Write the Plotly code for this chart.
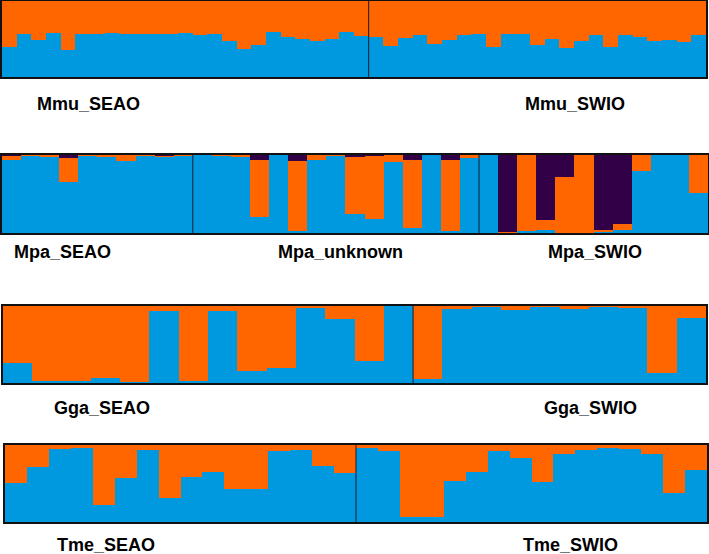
import plotly.graph_objects as go

W, H = 709, 554
BLUE = "#0099E0"
ORANGE = "#FF6600"
PURPLE = "#320047"

# ---------------- data ----------------
mmu_groups = ["Mmu_SEAO", "Mmu_SWIO"]
mmu_sizes = [25, 23]
mmu_blue = [0.39, 0.56, 0.49, 0.58, 0.36, 0.57, 0.56, 0.58, 0.57, 0.56, 0.57, 0.57, 0.58,
            0.55, 0.57, 0.48, 0.37, 0.42, 0.59, 0.52, 0.50, 0.48, 0.50, 0.59, 0.54,
            0.52, 0.41, 0.51, 0.55, 0.43, 0.49, 0.55, 0.57, 0.39, 0.57, 0.57, 0.42,
            0.50, 0.38, 0.47, 0.55, 0.39, 0.55, 0.53, 0.47, 0.49, 0.46, 0.55]
mmu_orange = [0.61, 0.44, 0.51, 0.42, 0.64, 0.43, 0.44, 0.42, 0.43, 0.44, 0.43, 0.43, 0.42,
              0.45, 0.43, 0.52, 0.63, 0.58, 0.41, 0.48, 0.50, 0.52, 0.50, 0.41, 0.46,
              0.48, 0.59, 0.49, 0.45, 0.57, 0.51, 0.45, 0.43, 0.61, 0.43, 0.43, 0.58,
              0.50, 0.62, 0.53, 0.45, 0.61, 0.45, 0.47, 0.53, 0.51, 0.54, 0.45]

mpa_groups = ["Mpa_SEAO", "Mpa_unknown", "Mpa_SWIO"]
mpa_sizes = [10, 15, 12]
mpa_blue = [0.93, 0.99, 0.97, 0.65, 0.99, 0.98, 0.92, 0.99, 0.98, 0.99,
            1.00, 0.99, 0.98, 0.21, 1.00, 0.03, 0.94, 0.99, 0.24, 0.18, 0.91, 0.07, 1.00, 0.02, 0.96,
            1.00, 0.00, 0.02, 0.04, 0.00, 0.00, 0.02, 0.04, 0.80, 1.00, 1.00, 0.51]
mpa_orange = [0.06, 0.01, 0.03, 0.31, 0.01, 0.02, 0.08, 0.01, 0.01, 0.01,
              0.00, 0.01, 0.02, 0.72, 0.00, 0.89, 0.06, 0.01, 0.73, 0.81, 0.09, 0.87, 0.00, 0.91, 0.04,
              0.00, 0.01, 0.98, 0.13, 0.72, 1.00, 0.02, 0.08, 0.20, 0.00, 0.00, 0.49]
mpa_purple = [0.01, 0.00, 0.00, 0.04, 0.00, 0.00, 0.00, 0.00, 0.01, 0.00,
              0.00, 0.00, 0.00, 0.07, 0.00, 0.08, 0.00, 0.00, 0.03, 0.01, 0.00, 0.06, 0.00, 0.07, 0.00,
              0.00, 0.99, 0.00, 0.83, 0.28, 0.00, 0.96, 0.88, 0.00, 0.00, 0.00, 0.00]

gga_groups = ["Gga_SEAO", "Gga_SWIO"]
gga_sizes = [14, 10]
gga_blue = [0.26, 0.02, 0.03, 0.07, 0.01, 0.94, 0.02, 0.94, 0.15, 0.20, 0.97, 0.83, 0.29, 1.00,
            0.05, 0.96, 0.99, 0.95, 0.99, 0.96, 0.99, 0.98, 0.13, 0.84]
gga_orange = [0.74, 0.98, 0.97, 0.93, 0.99, 0.06, 0.98, 0.06, 0.85, 0.80, 0.03, 0.17, 0.71, 0.00,
              0.95, 0.04, 0.01, 0.05, 0.01, 0.04, 0.01, 0.02, 0.87, 0.16]

tme_groups = ["Tme_SEAO", "Tme_SWIO"]
tme_sizes = [16, 16]
tme_blue = [0.51, 0.72, 0.95, 0.96, 0.22, 0.57, 0.93, 0.31, 0.59, 0.65, 0.43, 0.43, 0.92, 0.94, 0.73, 0.64,
            0.96, 0.92, 0.06, 0.06, 0.53, 0.65, 0.92, 0.83, 0.52, 0.88, 0.94, 0.96, 0.95, 0.88, 0.38, 0.67]
tme_orange = [0.49, 0.28, 0.05, 0.04, 0.78, 0.43, 0.07, 0.69, 0.41, 0.35, 0.57, 0.57, 0.08, 0.06, 0.27, 0.36,
              0.04, 0.08, 0.94, 0.94, 0.47, 0.35, 0.08, 0.17, 0.48, 0.12, 0.06, 0.04, 0.05, 0.12, 0.62, 0.33]

# ---------------- layout geometry (pixels) ----------------
panels = [
    dict(groups=mmu_groups, sizes=mmu_sizes, series=[(mmu_blue, BLUE), (mmu_orange, ORANGE)],
         box=(2, 706, 1, 77), labels=[(88, 104), (575, 104)]),
    dict(groups=mpa_groups, sizes=mpa_sizes,
         series=[(mpa_blue, BLUE), (mpa_orange, ORANGE), (mpa_purple, PURPLE)],
         box=(2, 708, 155, 233), labels=[(62, 252), (340, 252), (595, 252)]),
    dict(groups=gga_groups, sizes=gga_sizes, series=[(gga_blue, BLUE), (gga_orange, ORANGE)],
         box=(3, 706, 306, 383), labels=[(102, 408), (590, 408)]),
    dict(groups=tme_groups, sizes=tme_sizes, series=[(tme_blue, BLUE), (tme_orange, ORANGE)],
         box=(5, 707, 445, 522), labels=[(106, 545), (570, 545)]),
]

fig = go.Figure()
layout = dict(
    width=W, height=H, margin=dict(l=0, r=0, t=0, b=0),
    paper_bgcolor="white", plot_bgcolor="white",
    barmode="stack", bargap=0, showlegend=False,
)
shapes, annotations = [], []

for i, p in enumerate(panels, start=1):
    xa = "x" if i == 1 else f"x{i}"
    ya = "y" if i == 1 else f"y{i}"
    n = sum(p["sizes"])
    idx = list(range(n))
    for vals, col in p["series"]:
        fig.add_trace(go.Bar(x=idx, y=vals, marker=dict(color=col, line=dict(width=0)),
                             xaxis=xa, yaxis=ya, hoverinfo="skip"))
    x0, x1, y0, y1 = p["box"]
    axis_common = dict(showgrid=False, zeroline=False, showticklabels=False, ticks="",
                       showline=True, mirror=True, linecolor="#111111", linewidth=2)
    layout["xaxis" if i == 1 else f"xaxis{i}"] = dict(
        domain=[x0 / W, x1 / W], range=[-0.5, n - 0.5], anchor=ya, **axis_common)
    layout["yaxis" if i == 1 else f"yaxis{i}"] = dict(
        domain=[1 - y1 / H, 1 - y0 / H], range=[0, 1], anchor=xa, **axis_common)
    # group dividers
    b = 0
    for s in p["sizes"][:-1]:
        b += s
        shapes.append(dict(type="line", xref=xa, yref=ya, x0=b - 0.5, x1=b - 0.5, y0=0, y1=1,
                           line=dict(color="#1a1a2a", width=1)))
    for name, (lx, ly) in zip(p["groups"], p["labels"]):
        annotations.append(dict(text=f"<b>{name}</b>", xref="paper", yref="paper",
                                x=lx / W, y=1 - ly / H, showarrow=False,
                                xanchor="center", yanchor="middle",
                                font=dict(family="Arial, Liberation Sans", size=18, color="#000000")))

layout["shapes"] = shapes
layout["annotations"] = annotations
fig.update_layout(**layout)
fig.write_html("out.html", config={"displayModeBar": False},
               post_script="document.body.style.margin='0';document.body.style.padding='0';")
